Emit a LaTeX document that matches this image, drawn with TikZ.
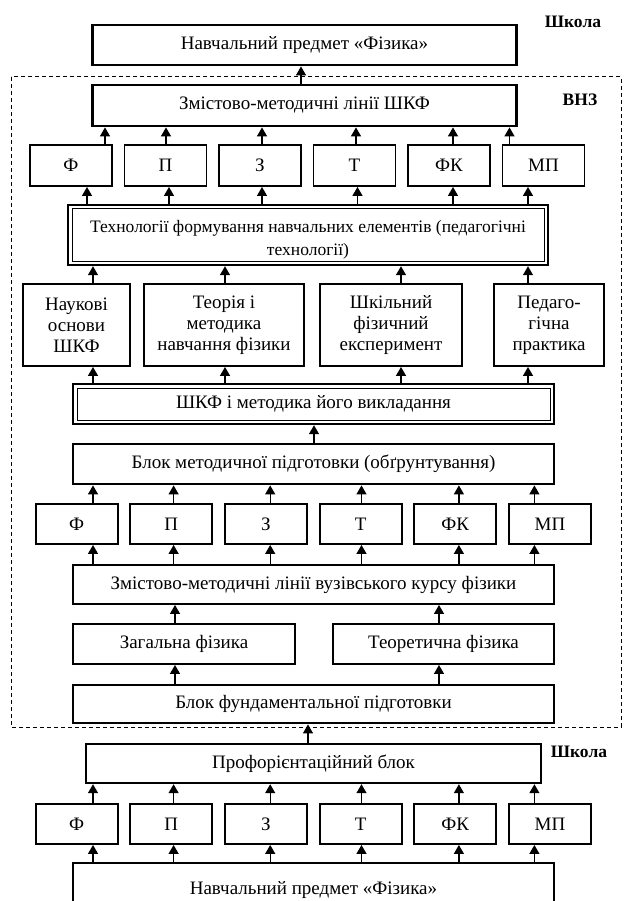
\documentclass[tikz,border=0pt]{standalone}
\usepackage{fontspec}
\setmainfont{Liberation Serif}
\usetikzlibrary{arrows.meta}
\begin{document}
\begin{tikzpicture}[x=1pt,y=-1pt,
  every node/.style={font=\fontsize{19}{21}\selectfont, inner sep=0pt, align=center},
  thk/.style={draw, line width=2.8pt},
  med/.style={draw, line width=1.9pt},
  dbl/.style={draw, line width=2.4pt},
  arr/.style={line width=1.3pt, -{Triangle[width=10pt,length=9pt]}},
  lbl/.style={font=\fontsize{17.5}{20}\selectfont\bfseries},
  frame/.style={draw, line width=1pt, dash pattern=on 4pt off 3pt}
]
\useasboundingbox (0,0) rectangle (623,901);

% labels
\node[lbl] (sch1) at (573,22) {Школа};
\node[lbl] (vnz) at (580,100) {ВНЗ};
\node[lbl] (sch2) at (579,752) {Школа};

% dashed frame
\draw[frame] (11,77) rectangle (621,727);

% top
\node[thk, minimum width=424, minimum height=40] (top) at (304.5,45) {Навчальний предмет «Фізика»};
\node[thk, minimum width=424, minimum height=41] (zml) at (304.5,105.5) {Змістово-методичні лінії ШКФ};

% row 1
\foreach \n/\x/\t in {r1a/71/Ф, r1b/165.5/П, r1c/260/З, r1d/354.5/Т, r1e/449/ФК, r1f/543.5/МП}{
  \node[med, minimum width=82, minimum height=41] (\n) at (\x,165.5) {\t};
}

% technology box
\node[dbl, minimum width=480, minimum height=60,
  label={[font=\fontsize{17.5}{23}\selectfont, align=center, yshift=-4.5pt]center:Технології формування навчальних елементів (педагогічні\\технології)}] (tech) at (308,235) {};
\draw[line width=1pt] ([shift={(5.2,5.2)}]tech.north west) rectangle ([shift={(-5.2,-5.2)}]tech.south east);

% row 2
\node[med, minimum width=107, minimum height=82] (n1) at (76.5,325) {Наукові\\основи\\ШКФ};
\node[med, minimum width=160, minimum height=82] (n2) at (224,325) {Теорія і\\методика\\навчання фізики};
\node[med, minimum width=142, minimum height=82] (n3) at (391,325) {Шкільний\\фізичний\\експеримент};
\node[med, minimum width=110, minimum height=82] (n4) at (549,325) {Педаго-\\гічна\\практика};

% ШКФ box
\node[dbl, minimum width=481, minimum height=40] (shkf) at (313.5,404) {ШКФ і методика його викладання};
\draw[line width=1pt] ([shift={(5.2,5.2)}]shkf.north west) rectangle ([shift={(-5.2,-5.2)}]shkf.south east);

\node[thk, minimum width=481, minimum height=40] (bm) at (313.5,464) {Блок методичної підготовки (обґрунтування)};

% row 2 six
\foreach \n/\x/\t in {r2a/76.7/Ф, r2b/171.35/П, r2c/266/З, r2d/360.65/Т, r2e/455.3/ФК, r2f/549.95/МП}{
  \node[med, minimum width=82, minimum height=40] (\n) at (\x,524) {\t};
}

\node[med, minimum width=481, minimum height=39] (zmvk) at (313.5,584.5) {Змістово-методичні лінії вузівського курсу фізики};
\node[med, minimum width=222, minimum height=40] (zag) at (184,644) {Загальна фізика};
\node[med, minimum width=221, minimum height=40] (teor) at (443.5,644) {Теоретична фізика};
\node[thk, minimum width=481, minimum height=38] (bf) at (313.5,704) {Блок фундаментальної підготовки};

\node[thk, minimum width=455, minimum height=39, line width=2.4pt] (prof) at (313.5,763.5) {Профорієнтаційний блок};

% row 3 six
\foreach \n/\x/\t in {r3a/76.7/Ф, r3b/171.35/П, r3c/266/З, r3d/360.65/Т, r3e/455.3/ФК, r3f/549.95/МП}{
  \node[med, minimum width=82, minimum height=40] (\n) at (\x,824) {\t};
}

\node[thk, minimum width=481, minimum height=54] (bot) at (313.5,890) {Навчальний предмет «Фізика»};

% arrows
\foreach \s/\t/\x in {zml/top/301,
  r1a/zml/105, r1b/zml/166, r1c/zml/262, r1d/zml/356, r1e/zml/453, r1f/zml/509.5,
  tech/r1a/87, tech/r1b/169, tech/r1c/262, tech/r1d/357.5, tech/r1e/453, tech/r1f/528,
  n1/tech/93, n2/tech/225, n3/tech/401, n4/tech/528,
  shkf/n1/93, shkf/n2/225, shkf/n3/401, shkf/n4/528,
  bm/shkf/314,
  r2a/bm/93, r2b/bm/173.6, r2c/bm/270.2, r2d/bm/361.5, r2e/bm/458.9, r2f/bm/534.4,
  zmvk/r2a/93, zmvk/r2b/173.6, zmvk/r2c/270.2, zmvk/r2d/361.5, zmvk/r2e/458.9, zmvk/r2f/534.4,
  zag/zmvk/175, teor/zmvk/439,
  bf/zag/175, bf/teor/439,
  prof/bf/308,
  r3a/prof/93, r3b/prof/173.6, r3c/prof/270.2, r3d/prof/361.5, r3e/prof/458.9, r3f/prof/534.4,
  bot/r3a/93, bot/r3b/173.6, bot/r3c/270.2, bot/r3d/361.5, bot/r3e/458.9, bot/r3f/534.4}{
  \coordinate (ax) at (\x,0);
  \draw[arr] (\s.north -| ax) -- (\t.south -| ax);
}
\end{tikzpicture}
\end{document}
